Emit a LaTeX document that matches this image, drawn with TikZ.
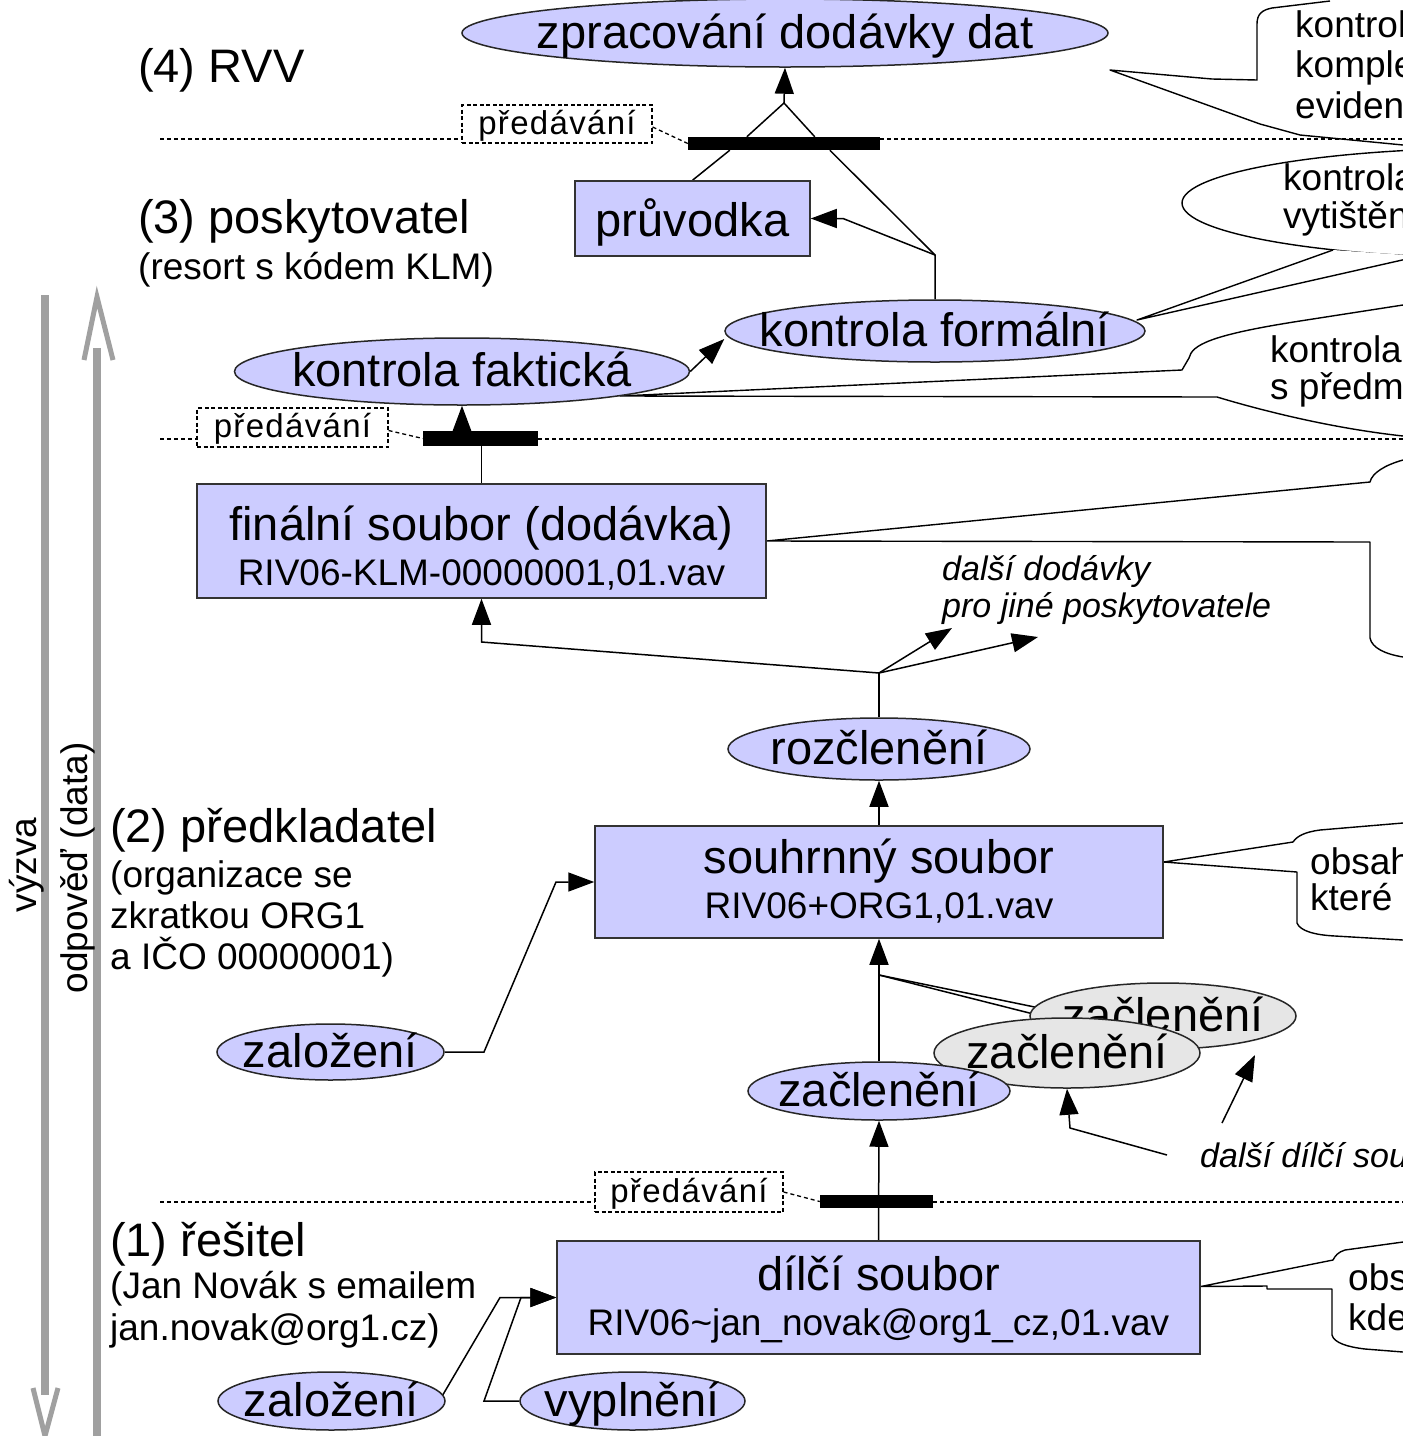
\documentclass[tikz,border=0pt]{standalone}
\usepackage{fontspec}
\setmainfont{Liberation Sans}
\usetikzlibrary{shapes.geometric,arrows.meta}
\pgfdeclarelayer{bg}
\pgfsetlayers{bg,main}
\newcommand\fbig{\fontsize{47}{45}\selectfont}
\newcommand\fsml{\fontsize{37}{42}\selectfont}
\newcommand\fita{\fontsize{34}{37}\selectfont\itshape}
\newcommand\fpre{\fontsize{33}{36}\selectfont\addfontfeatures{LetterSpace=4}}
\newcommand\zw[1]{\makebox[0pt]{#1}}
\definecolor{lav}{HTML}{CCCCFF}
\definecolor{lgray}{HTML}{E6E6E6}
\definecolor{agray}{HTML}{A0A0A0}
\tikzset{
 box/.style={rectangle, draw=black!80, line width=1.5pt, fill=lav, inner sep=0pt, align=center, font=\fbig},
 oval/.style={ellipse, draw=black!85, line width=1.5pt, fill=lav, inner sep=0pt, font=\fbig, text height=30pt, text depth=0pt},
 ovalg/.style={oval, fill=lgray},
 bar/.style={rectangle, fill=black, inner sep=0pt},
 predbox/.style={rectangle, draw=black, line width=1.2pt, dash pattern=on 4pt off 2.5pt, inner sep=0pt, font=\fpre, text height=20pt, text depth=0pt},
 sep/.style={line width=1.3pt, dash pattern=on 4pt off 3pt},
 conn/.style={line width=1.5pt, black},
 arr/.style={conn, -{Triangle[length=26pt,width=19pt]}},
 call/.style={line width=1.4pt, black, line join=round},
 lab/.style={anchor=base west, inner sep=0pt, font=\fbig},
 labs/.style={anchor=base west, inner sep=0pt, font=\fsml},
 labi/.style={anchor=base west, inner sep=0pt, font=\fita},
 bigarrow/.style={agray, line width=8pt},
 chev/.style={agray, line width=5pt, line join=miter},
}
\begin{document}
\begin{tikzpicture}[x=1pt,y=-1pt]
\useasboundingbox (0,0) rectangle (1403,1436);
\begin{pgfonlayer}{bg}
\fill[white] (0,0) rectangle (1403,1436);
\end{pgfonlayer}

% ---------- nodes ----------
\node[oval, minimum width=646pt, minimum height=68pt] (zprac) at (785,33) {\zw{zpracování dodávky dat}};
\node[box, minimum width=235pt, minimum height=75pt, text height=35pt, text depth=0pt] (pruv) at (692.5,218.5) {průvodka};
\node[oval, minimum width=420pt, minimum height=62pt] (kformal) at (935,331) {\zw{kontrola formální}};
\node[oval, minimum width=455pt, minimum height=67pt] (kfakt) at (462,371.5) {\zw{kontrola faktická}};
\node[box, minimum width=569pt, minimum height=114pt, text height=88pt, text depth=0pt] (fin) at (481.5,541) {finální soubor (dodávka)\\\fsml RIV06-KLM-00000001,01.vav};
\node[oval, minimum width=302pt, minimum height=62pt] (rozcl) at (879,749) {\zw{rozčlenění}};
\node[box, minimum width=568pt, minimum height=112pt, text height=72pt, text depth=0pt] (souhr) at (879,882) {souhrnný soubor\\\fsml RIV06+ORG1,01.vav};
\node[oval, minimum width=227pt, minimum height=56pt] (zal1) at (330.5,1052) {\zw{založení}};
\node[ovalg, minimum width=266pt, minimum height=66pt] (zaclB) at (1163,1016) {\zw{začlenění}};
\node[ovalg, minimum width=266pt, minimum height=70pt] (zaclF) at (1067,1053) {\zw{začlenění}};
\node[oval, minimum width=262pt, minimum height=58pt] (zacl) at (879,1091) {\zw{začlenění}};
\node[box, minimum width=643pt, minimum height=113pt, text height=75pt, text depth=0pt] (dilci) at (878.5,1297.5) {dílčí soubor\\\fsml RIV06\textasciitilde jan\_novak@org1\_cz,01.vav};
\node[oval, minimum width=227pt, minimum height=58pt] (zal2) at (331.5,1401) {\zw{založení}};
\node[oval, minimum width=225pt, minimum height=58pt] (vypl) at (632.5,1401) {\zw{vyplnění}};

% handover bars and labels
\node[bar, minimum width=192pt, minimum height=13pt] (bar1) at (784,143.5) {};
\node[bar, minimum width=115pt, minimum height=15pt] (bar2) at (480.5,438.5) {};
\node[bar, minimum width=113pt, minimum height=13pt] (bar3) at (876.5,1201.5) {};
\node[predbox, minimum width=190pt, minimum height=38pt] (pb1) at (557,124) {předávání};
\node[predbox, minimum width=191pt, minimum height=39pt] (pb2) at (292.5,427.5) {předávání};
\node[predbox, minimum width=188pt, minimum height=40pt] (pb3) at (689,1192) {předávání};

% level labels
\node[lab] (l4) at (138,82) {(4) RVV};
\node[lab] (l3) at (138,233) {(3) poskytovatel};
\node[labs] (l3b) at (138,279) {(resort s kódem KLM)};
\node[lab] (l2) at (110,842) {(2) předkladatel};
\node[labs] (l2b) at (110,887) {(organizace se};
\node[labs] (l2c) at (110,928) {zkratkou ORG1};
\node[labs] (l2d) at (110,969) {a IČO 00000001)};
\node[lab] (l1) at (110,1256) {(1) řešitel};
\node[labs] (l1b) at (110,1298) {(Jan Novák s emailem};
\node[labs] (l1c) at (110,1340) {jan.novak@org1.cz)};

% side arrows labels
\node[rotate=90, font=\fsml, inner sep=0pt] (vyzva) at (27,865) {výzva};
\node[rotate=90, font=\fsml, inner sep=0pt] (odpoved) at (78,868) {odpověď (data)};

% italic notes
\node[labi] (dd) at (942,580) {další dodávky};
\node[labi] (dd2t) at (942,617) {pro jiné poskytovatele};
\node[labi] (ddt) at (1200,1167) {další dílčí sou};

% callout texts
\node[labs] (k1a) at (1295,37) {kontrol};
\node[labs] (k1b) at (1295,77) {komple};
\node[labs] (k1c) at (1295,118) {eviden};
\node[labs] (k2a) at (1283,190) {kontrola};
\node[labs] (k2b) at (1283,228) {vytištěn};
\node[labs] (k3a) at (1270,362) {kontrola};
\node[labs] (k3b) at (1270,399) {s předm};
\node[labs] (k5a) at (1310,874) {obsah};
\node[labs] (k5b) at (1310,910) {které};
\node[labs] (k6a) at (1348,1290) {obs};
\node[labs] (k6b) at (1348,1330) {kde};

% coordinates
\coordinate (s1a) at (160,139); \coordinate (s1b) at (1403,139);
\coordinate (s2a) at (160,439); \coordinate (s2b) at (1403,439);
\coordinate (s3a) at (160,1202); \coordinate (s3b) at (1403,1202);
\coordinate (apx) at (784,103);
\coordinate (j1) at (935,255);
\coordinate (j1b) at (843,218.5);
\coordinate (j2) at (879,673);
\coordinate (c1) at (481.5,642);
\coordinate (dd1) at (952,628);
\coordinate (dd2) at (1038,637);
\coordinate (c2) at (484,1052);
\coordinate (c3) at (556,882);
\coordinate (j3) at (879,975);
\coordinate (c4) at (1167,1155);
\coordinate (c5) at (1070,1128);
\coordinate (c6) at (1222,1123);
\coordinate (c7) at (1255,1055);
\coordinate (c8) at (500,1297.5);
\coordinate (c9) at (484,1401);
\coordinate (c10) at (521,1297.5);
\coordinate (t1) at (1110,70);
\coordinate (t2) at (1137,320);
\coordinate (t3) at (620,396);

\begin{pgfonlayer}{bg}
% separators
\draw[sep] (s1a) -- (s1a -| pb1.west);
\draw[sep] (s1b -| bar1.east) -- (s1b);
\draw[sep] (s2a) -- (s2a -| pb2.west);
\draw[sep] (s2b -| bar2.east) -- (s2b);
\draw[sep] (s3a) -- (s3a -| pb3.west);
\draw[sep] (s3b -| bar3.east) -- (s3b);
\draw[sep] ([yshift=-3pt]pb1.east) -- (bar1.west);
\draw[sep] ([yshift=-3pt]pb2.east) -- (bar2.west);
\draw[sep] (pb3.east) -- (bar3.west);

% top
\draw[conn] ([xshift=59pt]bar1.north west) -- (apx) -- ([xshift=127pt]bar1.north west);
\draw[arr] (apx) -- (zprac.south);
\draw[conn] (pruv.north) -- ([xshift=42pt]bar1.south west);
\draw[conn] (kformal.north) -- (j1) -- ([xshift=142pt]bar1.south west);
\draw[arr] (j1) -- (j1b) -- (pruv.east);
\draw[arr] (kfakt.east) -- ([yshift=-8pt]kformal.west);
\draw[arr] (bar2.north -| kfakt.south) -- (kfakt.south);
\draw[conn] (fin.north) -- (fin.north |- bar2.south);

% middle
\draw[conn] (rozcl.north) -- (j2);
\draw[arr] (j2) -- (c1) -- (fin.south);
\draw[arr] (j2) -- (dd1);
\draw[arr] (j2) -- (dd2);
\draw[arr] (souhr.north) -- (rozcl.south);
\draw[arr] (zal1.east) -- (c2) -- (c3) -- (souhr.west);
\draw[arr] (zacl.north) -- (souhr.south);
\draw[conn] (j3) -- ([xshift=20pt,yshift=6pt]zaclB.west);
\draw[conn] (j3) -- ([xshift=20pt,yshift=-2pt]zaclB.west);
\draw[arr] (c4) -- (c5) -- (zaclF.south);
\draw[arr] (c6) -- (c7);

% bottom
\draw[arr] (dilci.north) -- (zacl.south);
\draw[arr] ([xshift=-3pt,yshift=6pt]zal2.east) -- (c8) -- (dilci.west);
\draw[arr] (vypl.west) -- (c9) -- (c10) -- (dilci.west);

% side arrows
\draw[bigarrow] (45,295) -- (45,1395);
\draw[chev] (33,1388) -- (45,1436) -- (58,1388);
\draw[bigarrow] (97,1436) -- (97,348);
\draw[chev] (84,360) -- (97,297) -- (113,360);

% callouts
\draw[call] (1330,1) -- (1272,8) .. controls (1262,10) and (1257,14) .. (1257,24) -- (1257,80) -- (1212,79) -- (t1) -- (1260,124) -- (1300,135) -- (1403,145);
\draw[call, fill=white] (1500,203) ellipse [x radius=318, y radius=55];
\fill[white] (1333,250) -- (t2) -- (1420,256) -- cycle;
\draw[call] (1333,250) -- (t2) -- (1420,256);
\draw[call] (1403,305) -- (1300,321) .. controls (1210,335) and (1192,345) .. (1189,358) -- (1182,370) -- (t3) -- (1217,397) .. controls (1260,410) and (1330,428) .. (1403,436);
\draw[call] (1403,460) .. controls (1385,465) and (1372,473) .. (1370,482) -- (fin.east) -- (1370,542) -- (1370,638) .. controls (1372,648) and (1385,654) .. (1403,657);
\draw[call] (1403,823) -- (1320,830) .. controls (1305,832) and (1297,836) .. (1293,842) -- ([yshift=20pt]souhr.east) -- (1297,872) -- (1297,923) .. controls (1300,931) and (1315,935) .. (1335,936) -- (1403,940);
\draw[call] (1403,1242) -- (1345,1250) .. controls (1338,1252) and (1335,1256) .. (1333,1260) -- ([yshift=11pt]dilci.east) -- (1267,1286) -- (1267,1289) -- (1332,1289) -- (1332,1335) .. controls (1334,1343) and (1348,1347) .. (1365,1349) -- (1403,1352);
\end{pgfonlayer}
\end{tikzpicture}
\end{document}
